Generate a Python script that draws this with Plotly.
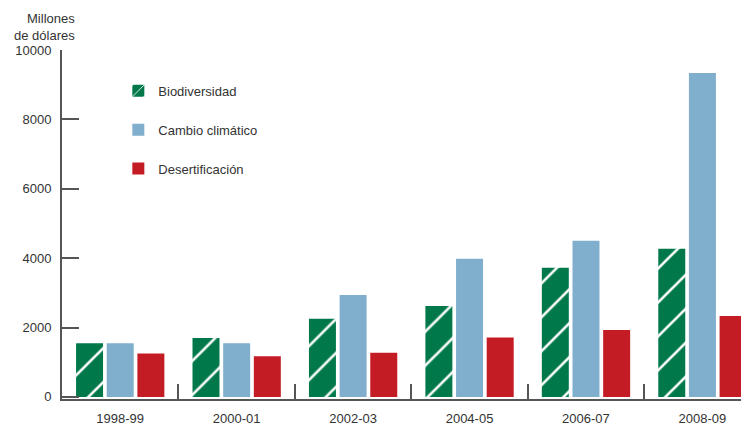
import plotly.graph_objects as go

periods = ["1998-99", "2000-01", "2002-03", "2004-05", "2006-07", "2008-09"]
biodiversidad = [1550, 1700, 2250, 2620, 3720, 4270]
cambio_climatico = [1550, 1550, 2940, 3980, 4500, 9340]
desertificacion = [1250, 1170, 1270, 1710, 1930, 2330]
y_ticks = [0, 2000, 4000, 6000, 8000, 10000]
y_tick_labels = ["0", "2000", "4000", "6000", "8000", "10000"]

GREEN = "#00784A"
BLUE = "#80AECD"
RED = "#C41C24"
AXIS = "#555555"
TXT = "#333333"
FONT = "Liberation Sans"

fig = go.Figure()
fig.add_trace(go.Bar(
    x=periods, y=biodiversidad, name="Biodiversidad", legendgroup="a",
    marker=dict(color=GREEN, line=dict(width=0),
                pattern=dict(shape="/", fgcolor="white", bgcolor=GREEN,
                             fgopacity=1, size=24, solidity=0.11,
                             fillmode="overlay")),
))
fig.add_trace(go.Bar(
    x=periods, y=cambio_climatico, name="Cambio climático", legendgroup="b",
    marker=dict(color=BLUE, line=dict(width=0)),
))
fig.add_trace(go.Bar(
    x=periods, y=desertificacion, name="Desertificación", legendgroup="c",
    marker=dict(color=RED, line=dict(width=0)),
))

fig.update_layout(
    width=741, height=417,
    margin=dict(l=54, r=0, t=42, b=26),
    paper_bgcolor="white", plot_bgcolor="white",
    barmode="group", bargap=0.21, bargroupgap=0.12,
    font=dict(family=FONT, size=13, color=TXT),
    showlegend=True,
    legend=dict(x=0.082, y=0.926, xanchor="left", yanchor="top",
                traceorder="grouped", tracegroupgap=19,
                font=dict(family=FONT, size=13, color=TXT),
                bgcolor="rgba(0,0,0,0)"),
    xaxis=dict(type="category", range=[-0.5, 5.4], automargin=False,
               showline=True, linecolor=AXIS, linewidth=2,
               tickson="boundaries", ticks="inside", ticklen=15,
               tickcolor=AXIS, tickwidth=1.5,
               showgrid=False, zeroline=False, ticklabelstandoff=6,
               tickfont=dict(family=FONT, size=13, color=TXT)),
    yaxis=dict(range=[-60, 10000], tickvals=y_ticks, ticktext=y_tick_labels,
               automargin=False,
               showline=True, linecolor=AXIS, linewidth=2,
               ticks="inside", ticklen=17, tickcolor=AXIS, tickwidth=1.5,
               showgrid=False, zeroline=False, ticklabelstandoff=6,
               tickfont=dict(family=FONT, size=13, color=TXT)),
    annotations=[dict(text="Millones<br>de dólares", xref="paper", yref="paper",
                      x=0.022, y=1.118, xanchor="right", yanchor="top",
                      align="right", showarrow=False,
                      font=dict(family=FONT, size=13, color=TXT))],
)

fig.write_html("out.html")
